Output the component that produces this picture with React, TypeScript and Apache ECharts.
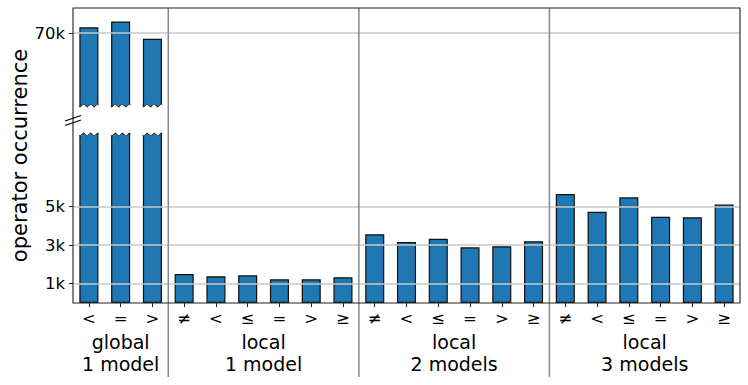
import React, { useEffect, useRef } from 'react';
import * as echarts from 'echarts';

const globalOps = ['<', '=', '>'];
const localOps = ['≠', '<', '≤', '=', '>', '≥'];
const globalValues = [70300, 70600, 69700];
const local1Values = [1510, 1390, 1440, 1230, 1230, 1340];
const local2Values = [3570, 3170, 3340, 2890, 2950, 3210];
const local3Values = [5660, 4740, 5490, 4480, 4450, 5110];
const groupLabels = ['global\n1 model', 'local\n1 model', 'local\n2 models', 'local\n3 models'];
const lowerTicks = [1000, 3000, 5000];
const upperTicks = [70000];
const yTitle = 'operator occurrence';

const groups = [
  { label: groupLabels[0], ops: globalOps, values: globalValues },
  { label: groupLabels[1], ops: localOps, values: local1Values },
  { label: groupLabels[2], ops: localOps, values: local2Values },
  { label: groupLabels[3], ops: localOps, values: local3Values },
];
const categories = groups.flatMap((g) => g.ops);
const values = groups.flatMap((g) => g.values);

const W = 748;
const H = 385;
const LEFT = 73;
const RIGHT = 8;
const PLOT_TOP = 8;
const PLOT_BOTTOM = 303;
const UPPER_BOTTOM = 107;
const LOWER_TOP = 133;
const FONT = '"DejaVu Sans", sans-serif';
const BAR_COLOR = '#1f77b4';

const fmt = (v: number) => `${v / 1000}k`;

export default function App() {
  const ref = useRef<HTMLDivElement>(null);
  useEffect(() => {
    document.body.style.margin = '0';
    if (!ref.current) return;
    const chart = echarts.init(ref.current, undefined, { renderer: 'svg' });
    const barStyle = { color: BAR_COLOR, borderColor: '#111', borderWidth: 1.2 };
    const gridLine = { color: '#c8c8c8', width: 1.5, type: 'solid' as const };
    const yLabel = { fontSize: 16.5, color: '#000', fontFamily: FONT, formatter: fmt, margin: 8 };
    chart.setOption({
      animation: false,
      grid: [
        { left: LEFT, right: RIGHT, top: PLOT_TOP, height: UPPER_BOTTOM - PLOT_TOP },
        { left: LEFT, right: RIGHT, top: LOWER_TOP, height: PLOT_BOTTOM - LOWER_TOP },
      ],
      xAxis: [
        {
          type: 'category', gridIndex: 0, data: categories, show: false,
        },
        {
          type: 'category', gridIndex: 1, data: categories,
          axisLine: { show: false },
          axisTick: { show: true, length: 4, alignWithLabel: true, lineStyle: { color: '#222', width: 1 } },
          axisLabel: { interval: 0, fontSize: 16.5, color: '#000', fontFamily: FONT, margin: 7 },
        },
      ],
      yAxis: [
        {
          type: 'value', gridIndex: 0, min: 66160, max: 71300,
          axisLine: { show: false }, splitLine: { show: false },
          axisTick: { show: true, length: 4, customValues: upperTicks, lineStyle: { color: '#222' } },
          axisLabel: { ...yLabel, customValues: upperTicks },
        },
        {
          type: 'value', gridIndex: 1, min: 0, max: 8830,
          axisLine: { show: false }, splitLine: { show: false },
          axisTick: { show: true, length: 4, customValues: lowerTicks, lineStyle: { color: '#222' } },
          axisLabel: { ...yLabel, customValues: lowerTicks },
        },
      ],
      series: [
        {
          type: 'bar', xAxisIndex: 0, yAxisIndex: 0, data: values, barWidth: '60%', clip: true,
          itemStyle: barStyle,
          markLine: {
            silent: true, symbol: 'none', label: { show: false }, lineStyle: gridLine,
            data: upperTicks.map((v) => ({ yAxis: v })),
          },
        },
        {
          type: 'bar', xAxisIndex: 1, yAxisIndex: 1, data: values, barWidth: '60%', clip: true,
          itemStyle: barStyle,
          markLine: {
            silent: true, symbol: 'none', label: { show: false }, lineStyle: gridLine,
            data: lowerTicks.map((v) => ({ yAxis: v })),
          },
        },
      ],
    });

    // positions from the axes
    const cx = (i: number) => chart.convertToPixel({ xAxisIndex: 1 }, i) as number;
    const band = cx(1) - cx(0);
    const barW = band * 0.6;
    const graphics: any[] = [];
    // frame
    graphics.push({
      type: 'rect', z: 100,
      shape: { x: LEFT, y: PLOT_TOP, width: W - RIGHT - LEFT, height: PLOT_BOTTOM - PLOT_TOP },
      style: { fill: 'none', stroke: '#222', lineWidth: 1.1 },
    });
    // group separators and labels
    let start = 0;
    groups.forEach((g, gi) => {
      const end = start + g.ops.length;
      const xl = cx(start) - band / 2;
      const xr = cx(end - 1) + band / 2;
      if (gi > 0) {
        graphics.push({
          type: 'line', z: 90,
          shape: { x1: xl, y1: PLOT_TOP, x2: xl, y2: 377 },
          style: { stroke: '#888', lineWidth: 1.5 },
        });
      }
      graphics.push({
        type: 'text', z: 100, x: (xl + xr) / 2, y: 331,
        style: {
          text: g.label, align: 'center', verticalAlign: 'top',
          font: `19px ${FONT}`, lineHeight: 22, fill: '#000',
        },
      });
      start = end;
    });
    // wavy break edges on bars that cross the break
    const upperMin = 66160;
    const lowerMax = 8830;
    values.forEach((v, i) => {
      if (v <= lowerMax) return;
      const x0 = cx(i) - barW / 2 - 1;
      const x1 = cx(i) + barW / 2 + 1;
      const wave = (yEdge: number) => {
        const pts: number[][] = [];
        const n = 36;
        for (let k = 0; k <= n; k++) {
          const x = x0 + ((x1 - x0) * k) / n;
          pts.push([x, yEdge + 1.3 * Math.sin((2 * Math.PI * 3 * k) / n)]);
        }
        return pts;
      };
      if (v > upperMin) {
        const w = wave(UPPER_BOTTOM - 1.5);
        graphics.push({
          type: 'polygon', z: 95,
          shape: { points: [...w, [x1, UPPER_BOTTOM + 3], [x0, UPPER_BOTTOM + 3]] },
          style: { fill: '#fff', stroke: 'none' },
        });
        graphics.push({
          type: 'polyline', z: 96,
          shape: { points: wave(UPPER_BOTTOM - 1.5).map((p) => [p[0], p[1]]).slice(1, -1) },
          style: { stroke: '#111', lineWidth: 1, fill: 'none' },
        });
      }
      const w2 = wave(LOWER_TOP + 1.5);
      graphics.push({
        type: 'polygon', z: 95,
        shape: { points: [[x0, LOWER_TOP - 3], [x1, LOWER_TOP - 3], ...w2.slice().reverse()] },
        style: { fill: '#fff', stroke: 'none' },
      });
      graphics.push({
        type: 'polyline', z: 96,
        shape: { points: w2.slice(1, -1) },
        style: { stroke: '#111', lineWidth: 1, fill: 'none' },
      });
    });
    // break marks on the left spine
    const mid = (UPPER_BOTTOM + LOWER_TOP) / 2;
    [0, 4.5].forEach((d) => {
      graphics.push({
        type: 'line', z: 101,
        shape: { x1: LEFT - 8, y1: mid + 1 + d, x2: LEFT + 8, y2: mid - 4.5 + d },
        style: { stroke: '#000', lineWidth: 1.3 },
      });
    });
    // y title
    graphics.push({
      type: 'text', z: 100, x: 20, y: (PLOT_TOP + PLOT_BOTTOM) / 2, rotation: Math.PI / 2,
      style: {
        text: yTitle, align: 'center', verticalAlign: 'middle',
        font: `21px ${FONT}`, fill: '#000',
      },
    });
    chart.setOption({ graphic: graphics });
    return () => chart.dispose();
  }, []);
  return <div ref={ref} style={{ width: W, height: H }} />;
}
